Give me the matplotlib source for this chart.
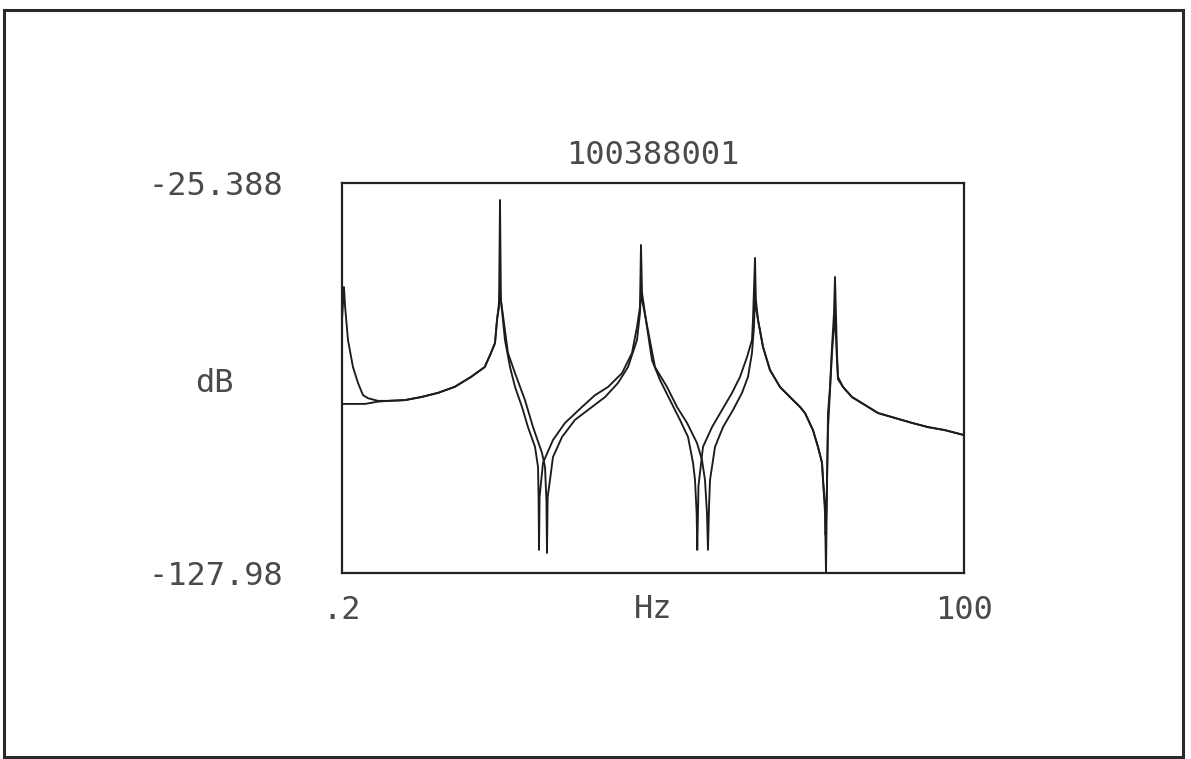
import matplotlib
matplotlib.use("Agg")
import matplotlib.pyplot as plt
from matplotlib.patches import Rectangle

plt.rcParams["font.family"] = ["DejaVu Sans Mono"]

# Record id and axis limits
record_id = "100388001"
f_min, f_max = 0.2, 100.0
db_min, db_max = -127.98, -25.388

# Trace A: measured frequency response (Hz, dB)
freq_a = [0.2, 0.52, 0.7, 1.16, 1.96, 2.77, 3.57, 4.37, 5.98, 7.58, 10.3, 12.9,
          15.6, 18.3, 20.9, 23.1, 24.1, 24.75, 25.07, 25.39, 25.55, 25.7, 26.35,
          27.16, 27.96, 29.08, 30.04, 31.17, 31.65, 31.75, 31.81, 31.9, 32.45,
          34.05, 35.98, 38.71, 40.79, 42.88, 45.13, 46.73, 47.53, 48.01, 48.17,
          48.34, 49.14, 49.94, 51.22, 52.83, 54.43, 55.72, 56.52, 56.84, 57.1,
          57.2, 57.4, 58.12, 59.57, 61.17, 62.78, 64.06, 65.18, 65.98, 66.14,
          66.47, 66.6, 66.95, 67.75, 68.87, 70.48, 72.08, 73.69, 74.49, 75.77,
          76.57, 77.22, 77.38, 77.7, 77.86, 78.02, 78.18, 78.5, 78.82, 79.14,
          79.3, 79.62, 79.78, 80.59, 82.03, 83.63, 86.2, 88.93, 91.66, 94.22,
          96.95, 100.0]
db_a = [-61.4, -52.75, -58.0, -66.7, -73.8, -78.0, -81.2, -82.0, -82.7, -82.7,
        -82.5, -81.7, -80.6, -79.0, -76.4, -73.8, -70.1, -67.5, -61.4, -58.0,
        -29.86, -56.2, -66.7, -73.8, -79.0, -84.3, -89.6, -94.8, -100.1, -108.8,
        -121.9, -108.0, -99.0, -93.0, -88.5, -84.3, -81.2, -79.05, -75.4, -70.1,
        -63.3, -58.0, -41.7, -54.3, -63.3, -72.0, -77.2, -82.5, -87.7, -92.2,
        -99.0, -103.5, -112.2, -121.9, -105.0, -94.8, -89.6, -85.1, -80.6, -76.4,
        -71.2, -66.7, -61.4, -45.1, -56.0, -61.4, -68.5, -74.6, -79.05, -81.7,
        -84.3, -85.9, -90.4, -94.8, -99.0, -103.5, -112.2, -127.98, -103.5,
        -85.9, -79.05, -68.5, -59.6, -50.1, -70.1, -76.4, -79.05, -81.7, -83.3,
        -85.9, -87.2, -88.5, -89.6, -90.4, -91.7]

# Trace B: synthesised response (Hz, dB)
freq_b = [0.2, 3.9, 5.98, 7.58, 10.3, 12.9, 15.6, 18.3, 20.9, 23.1, 24.1, 24.75,
          25.07, 25.39, 25.55, 25.7, 26.83, 27.96, 29.56, 30.85, 32.29, 32.77,
          33.0, 33.09, 33.2, 33.57, 34.05, 35.5, 37.58, 40.31, 42.4, 44.48,
          46.09, 47.53, 48.01, 48.17, 48.34, 50.42, 52.35, 53.95, 55.56, 57.16,
          57.96, 58.44, 58.76, 58.92, 59.1, 59.25, 60.05, 61.33, 62.94, 64.38,
          65.34, 65.98, 66.3, 66.47, 66.6, 66.95, 67.75, 68.87, 70.48, 72.08,
          73.69, 74.49, 75.77, 76.57, 77.22, 77.38, 77.7, 77.8, 77.95, 78.18,
          78.5, 78.82, 79.14, 79.3, 79.62, 79.78, 80.59, 82.03, 83.63, 86.2,
          88.93, 91.66, 94.22, 96.95, 100.0]
db_b = [-83.5, -83.5, -82.9, -82.7, -82.5, -81.7, -80.6, -79.0, -76.4, -73.8,
        -70.1, -67.5, -61.4, -57.0, -54.3, -56.2, -70.1, -75.4, -82.5, -89.6,
        -96.4, -100.1, -108.8, -122.7, -108.0, -103.5, -97.5, -92.2, -87.7,
        -84.3, -81.7, -78.0, -73.8, -66.7, -59.6, -54.3, -56.0, -73.8, -79.05,
        -84.3, -88.5, -93.8, -98.25, -103.5, -112.2, -121.9, -110.0, -103.5,
        -94.8, -89.6, -85.1, -80.6, -76.4, -70.1, -63.3, -54.3, -58.0, -61.4,
        -68.5, -74.6, -79.05, -81.7, -84.3, -85.9, -90.4, -94.8, -99.0, -103.5,
        -110.0, -118.0, -110.0, -90.0, -80.0, -70.0, -63.3, -60.0, -72.0, -77.0,
        -79.05, -81.7, -83.3, -85.9, -87.2, -88.5, -89.6, -90.4, -91.7]

W, H = 1191, 759
fig = plt.figure(figsize=(W / 100, H / 100), dpi=100)
fig.patch.set_facecolor("white")

# outer page frame
fig.add_artist(Rectangle((4 / W, 1 - 757 / H), 1179 / W, 747 / H,
                         transform=fig.transFigure, fill=False,
                         lw=2.2, ec="#2a2a2a"))

ax = fig.add_axes([342 / W, 1 - 573 / H, (964 - 342) / W, (573 - 183) / H])
ink = "#1c1c1c"
ax.plot(freq_b, db_b, color=ink, lw=1.35, solid_joinstyle="round")
ax.plot(freq_a, db_a, color=ink, lw=1.35, solid_joinstyle="round")

ax.set_xlim(f_min, f_max)
ax.set_ylim(db_min, db_max)
for s in ax.spines.values():
    s.set_linewidth(1.6)
    s.set_color("#222222")

text_col = "#4a4a4a"
fs = 23
ax.set_xticks([f_min, f_max])
ax.set_xticklabels([".2", "100"])
ax.set_yticks([db_min, db_max])
ax.set_yticklabels(["-127.98", "-25.388"])
ax.tick_params(axis="both", length=0, labelsize=fs, labelcolor=text_col)
ax.tick_params(axis="x", pad=16)
ax.tick_params(axis="y", pad=42)

ax.annotate("Hz", xy=(0.5, 0), xycoords="axes fraction", xytext=(0, -37),
            textcoords="offset pixels", ha="center", va="center",
            fontsize=fs, color=text_col)
ax.annotate("dB", xy=(0, 0.5), xycoords="axes fraction", xytext=(-128, -6),
            textcoords="offset pixels", ha="center", va="center",
            fontsize=fs, color=text_col)
ax.annotate(record_id, xy=(0.5, 1), xycoords="axes fraction", xytext=(0, 27),
            textcoords="offset pixels", ha="center", va="center",
            fontsize=fs, color=text_col)

fig.savefig("out.png", dpi=100, facecolor="white")
